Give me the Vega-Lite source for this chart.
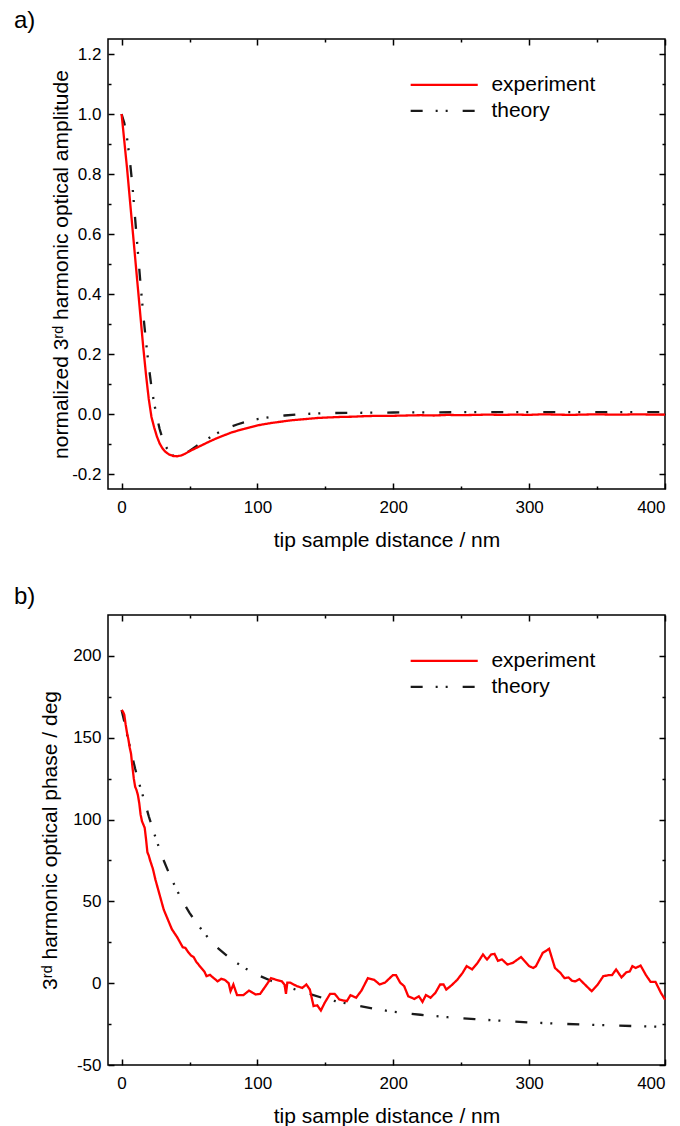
{
  "$schema": "https://vega.github.io/schema/vega-lite/v6.json",
  "background": "white",
  "padding": {"left": 13, "top": 8, "right": 0, "bottom": 0},
  "bounds": "flush",
  "spacing": 126,
  "resolve": {"scale": {"color": "independent", "strokeDash": "independent"}, "legend": {"color": "independent", "strokeDash": "independent"}},
  "config": {
    "font": "Liberation Sans",
    "view": {"stroke": "black", "strokeWidth": 1.5},
    "axis": {"grid": false, "domain": false, "tickColor": "black", "tickWidth": 1.5, "labelColor": "black", "labelFontSize": 17, "labelFont": "Liberation Sans", "titleFontSize": 21, "titleFont": "Liberation Sans", "titleFontWeight": "normal", "titleColor": "black"},
    "legend": {"title": null, "orient": "none", "legendX": 325.7, "legendY": 35.3, "symbolType": "M-5,0H5", "symbolSize": 180, "symbolStrokeWidth": 2.3, "labelFontSize": 21, "labelFont": "Liberation Sans", "labelColor": "black", "labelOffset": 36.7, "rowPadding": 4, "padding": 0},
    "title": {"fontSize": 24, "fontWeight": "normal", "anchor": "start", "frame": "group", "dx": -94, "offset": 5, "baseline": "alphabetic", "color": "black", "font": "Liberation Sans"}
  },
  "datasets": {
    "a": [
      {"series": "experiment", "x": 0, "y": 1.0},
      {"series": "experiment", "x": 2, "y": 0.91},
      {"series": "experiment", "x": 4, "y": 0.82},
      {"series": "experiment", "x": 6, "y": 0.72},
      {"series": "experiment", "x": 8, "y": 0.62},
      {"series": "experiment", "x": 10, "y": 0.52},
      {"series": "experiment", "x": 12, "y": 0.42},
      {"series": "experiment", "x": 14, "y": 0.32},
      {"series": "experiment", "x": 16, "y": 0.22},
      {"series": "experiment", "x": 18, "y": 0.13},
      {"series": "experiment", "x": 20, "y": 0.05},
      {"series": "experiment", "x": 22, "y": -0.01},
      {"series": "experiment", "x": 24, "y": -0.045},
      {"series": "experiment", "x": 26, "y": -0.075},
      {"series": "experiment", "x": 28, "y": -0.098},
      {"series": "experiment", "x": 30, "y": -0.114},
      {"series": "experiment", "x": 32, "y": -0.125},
      {"series": "experiment", "x": 35, "y": -0.135},
      {"series": "experiment", "x": 38, "y": -0.14},
      {"series": "experiment", "x": 41, "y": -0.141},
      {"series": "experiment", "x": 44, "y": -0.138},
      {"series": "experiment", "x": 47, "y": -0.132},
      {"series": "experiment", "x": 50, "y": -0.124},
      {"series": "experiment", "x": 55, "y": -0.113},
      {"series": "experiment", "x": 60, "y": -0.102},
      {"series": "experiment", "x": 65, "y": -0.091},
      {"series": "experiment", "x": 70, "y": -0.081},
      {"series": "experiment", "x": 75, "y": -0.072},
      {"series": "experiment", "x": 80, "y": -0.063},
      {"series": "experiment", "x": 85, "y": -0.056},
      {"series": "experiment", "x": 90, "y": -0.05},
      {"series": "experiment", "x": 95, "y": -0.044},
      {"series": "experiment", "x": 100, "y": -0.038},
      {"series": "experiment", "x": 105, "y": -0.034},
      {"series": "experiment", "x": 110, "y": -0.03},
      {"series": "experiment", "x": 115, "y": -0.027},
      {"series": "experiment", "x": 120, "y": -0.024},
      {"series": "experiment", "x": 125, "y": -0.021},
      {"series": "experiment", "x": 130, "y": -0.019},
      {"series": "experiment", "x": 135, "y": -0.017},
      {"series": "experiment", "x": 140, "y": -0.015},
      {"series": "experiment", "x": 145, "y": -0.013},
      {"series": "experiment", "x": 150, "y": -0.012},
      {"series": "experiment", "x": 160, "y": -0.01},
      {"series": "experiment", "x": 170, "y": -0.009},
      {"series": "experiment", "x": 180, "y": -0.007},
      {"series": "experiment", "x": 190, "y": -0.006},
      {"series": "experiment", "x": 200, "y": -0.006},
      {"series": "experiment", "x": 210, "y": -0.005},
      {"series": "experiment", "x": 220, "y": -0.004},
      {"series": "experiment", "x": 230, "y": -0.005},
      {"series": "experiment", "x": 240, "y": -0.003},
      {"series": "experiment", "x": 250, "y": -0.004},
      {"series": "experiment", "x": 260, "y": -0.003},
      {"series": "experiment", "x": 270, "y": -0.002},
      {"series": "experiment", "x": 280, "y": -0.003},
      {"series": "experiment", "x": 290, "y": -0.002},
      {"series": "experiment", "x": 300, "y": -0.003},
      {"series": "experiment", "x": 310, "y": -0.001},
      {"series": "experiment", "x": 320, "y": -0.002},
      {"series": "experiment", "x": 330, "y": -0.003},
      {"series": "experiment", "x": 340, "y": -0.002},
      {"series": "experiment", "x": 350, "y": -0.001},
      {"series": "experiment", "x": 360, "y": -0.002},
      {"series": "experiment", "x": 370, "y": -0.002},
      {"series": "experiment", "x": 380, "y": -0.001},
      {"series": "experiment", "x": 390, "y": -0.002},
      {"series": "experiment", "x": 400, "y": -0.002},
      {"series": "theory", "x": 0, "y": 1.0},
      {"series": "theory", "x": 2, "y": 0.97},
      {"series": "theory", "x": 4, "y": 0.92},
      {"series": "theory", "x": 6, "y": 0.85},
      {"series": "theory", "x": 8, "y": 0.76},
      {"series": "theory", "x": 10, "y": 0.65},
      {"series": "theory", "x": 12, "y": 0.54},
      {"series": "theory", "x": 14, "y": 0.43},
      {"series": "theory", "x": 16, "y": 0.33},
      {"series": "theory", "x": 18, "y": 0.24},
      {"series": "theory", "x": 20, "y": 0.16},
      {"series": "theory", "x": 22, "y": 0.09},
      {"series": "theory", "x": 24, "y": 0.035},
      {"series": "theory", "x": 26, "y": -0.01},
      {"series": "theory", "x": 28, "y": -0.05},
      {"series": "theory", "x": 30, "y": -0.08},
      {"series": "theory", "x": 32, "y": -0.103},
      {"series": "theory", "x": 34, "y": -0.12},
      {"series": "theory", "x": 36, "y": -0.132},
      {"series": "theory", "x": 38, "y": -0.139},
      {"series": "theory", "x": 40, "y": -0.142},
      {"series": "theory", "x": 43, "y": -0.141},
      {"series": "theory", "x": 46, "y": -0.135},
      {"series": "theory", "x": 50, "y": -0.123},
      {"series": "theory", "x": 55, "y": -0.107},
      {"series": "theory", "x": 60, "y": -0.092},
      {"series": "theory", "x": 65, "y": -0.078},
      {"series": "theory", "x": 70, "y": -0.065},
      {"series": "theory", "x": 75, "y": -0.053},
      {"series": "theory", "x": 80, "y": -0.043},
      {"series": "theory", "x": 85, "y": -0.035},
      {"series": "theory", "x": 90, "y": -0.028},
      {"series": "theory", "x": 95, "y": -0.022},
      {"series": "theory", "x": 100, "y": -0.017},
      {"series": "theory", "x": 110, "y": -0.01},
      {"series": "theory", "x": 120, "y": -0.005},
      {"series": "theory", "x": 130, "y": -0.001},
      {"series": "theory", "x": 140, "y": 0.001},
      {"series": "theory", "x": 150, "y": 0.003},
      {"series": "theory", "x": 175, "y": 0.004},
      {"series": "theory", "x": 200, "y": 0.005},
      {"series": "theory", "x": 250, "y": 0.006},
      {"series": "theory", "x": 300, "y": 0.006},
      {"series": "theory", "x": 350, "y": 0.006},
      {"series": "theory", "x": 400, "y": 0.006}
    ],
    "b": [
      {"series": "experiment", "x": 0, "y": 167},
      {"series": "experiment", "x": 1, "y": 166},
      {"series": "experiment", "x": 2, "y": 164},
      {"series": "experiment", "x": 3, "y": 158},
      {"series": "experiment", "x": 4, "y": 153},
      {"series": "experiment", "x": 5, "y": 149},
      {"series": "experiment", "x": 6, "y": 144},
      {"series": "experiment", "x": 7, "y": 140},
      {"series": "experiment", "x": 8, "y": 132},
      {"series": "experiment", "x": 9, "y": 125},
      {"series": "experiment", "x": 10, "y": 120},
      {"series": "experiment", "x": 11, "y": 118},
      {"series": "experiment", "x": 12, "y": 115},
      {"series": "experiment", "x": 13, "y": 110},
      {"series": "experiment", "x": 14, "y": 103},
      {"series": "experiment", "x": 15, "y": 99},
      {"series": "experiment", "x": 16, "y": 97},
      {"series": "experiment", "x": 17, "y": 95},
      {"series": "experiment", "x": 18, "y": 88},
      {"series": "experiment", "x": 19, "y": 80},
      {"series": "experiment", "x": 20, "y": 78},
      {"series": "experiment", "x": 21, "y": 75},
      {"series": "experiment", "x": 23, "y": 70},
      {"series": "experiment", "x": 25, "y": 63},
      {"series": "experiment", "x": 27, "y": 57},
      {"series": "experiment", "x": 29, "y": 51},
      {"series": "experiment", "x": 31, "y": 45},
      {"series": "experiment", "x": 33, "y": 41},
      {"series": "experiment", "x": 35, "y": 37},
      {"series": "experiment", "x": 37, "y": 33},
      {"series": "experiment", "x": 39, "y": 30.5},
      {"series": "experiment", "x": 41, "y": 28},
      {"series": "experiment", "x": 43, "y": 25},
      {"series": "experiment", "x": 45, "y": 22},
      {"series": "experiment", "x": 47, "y": 21.5},
      {"series": "experiment", "x": 49, "y": 19},
      {"series": "experiment", "x": 51, "y": 17},
      {"series": "experiment", "x": 53, "y": 16},
      {"series": "experiment", "x": 55, "y": 13},
      {"series": "experiment", "x": 57, "y": 11},
      {"series": "experiment", "x": 59, "y": 9},
      {"series": "experiment", "x": 61, "y": 7},
      {"series": "experiment", "x": 62.5, "y": 4.3},
      {"series": "experiment", "x": 65, "y": 5.1},
      {"series": "experiment", "x": 68, "y": 3},
      {"series": "experiment", "x": 70.7, "y": 1.1},
      {"series": "experiment", "x": 73.4, "y": 2.7},
      {"series": "experiment", "x": 76, "y": 2},
      {"series": "experiment", "x": 78.8, "y": 0},
      {"series": "experiment", "x": 80.2, "y": -4.9},
      {"series": "experiment", "x": 82.3, "y": -0.8},
      {"series": "experiment", "x": 85, "y": -7.3},
      {"series": "experiment", "x": 89.7, "y": -7.3},
      {"series": "experiment", "x": 93.8, "y": -4.5},
      {"series": "experiment", "x": 96.5, "y": -5.9},
      {"series": "experiment", "x": 98.6, "y": -6.9},
      {"series": "experiment", "x": 102, "y": -6.5},
      {"series": "experiment", "x": 106, "y": -1.8},
      {"series": "experiment", "x": 110, "y": 3.1},
      {"series": "experiment", "x": 114, "y": 2},
      {"series": "experiment", "x": 118, "y": 1.1},
      {"series": "experiment", "x": 120, "y": -1},
      {"series": "experiment", "x": 121, "y": -6.5},
      {"series": "experiment", "x": 122, "y": 0.4},
      {"series": "experiment", "x": 124, "y": 0.4},
      {"series": "experiment", "x": 129, "y": -1.8},
      {"series": "experiment", "x": 133, "y": -2.9},
      {"series": "experiment", "x": 136, "y": -0.8},
      {"series": "experiment", "x": 138.6, "y": -3.9},
      {"series": "experiment", "x": 141.3, "y": -14},
      {"series": "experiment", "x": 144, "y": -13.5},
      {"series": "experiment", "x": 146.7, "y": -16.7},
      {"series": "experiment", "x": 149.5, "y": -12},
      {"series": "experiment", "x": 153.5, "y": -6.5},
      {"series": "experiment", "x": 156.8, "y": -6.5},
      {"series": "experiment", "x": 160.3, "y": -10},
      {"series": "experiment", "x": 165.8, "y": -11},
      {"series": "experiment", "x": 168.5, "y": -7.3},
      {"series": "experiment", "x": 172.6, "y": -8.9},
      {"series": "experiment", "x": 176.6, "y": -4.5},
      {"series": "experiment", "x": 181.3, "y": 3.1},
      {"series": "experiment", "x": 186, "y": 2},
      {"series": "experiment", "x": 190, "y": -0.8},
      {"series": "experiment", "x": 194, "y": 0.4},
      {"series": "experiment", "x": 199.7, "y": 4.9},
      {"series": "experiment", "x": 202, "y": 4.9},
      {"series": "experiment", "x": 205, "y": 0.4},
      {"series": "experiment", "x": 208, "y": -1.8},
      {"series": "experiment", "x": 211, "y": -8},
      {"series": "experiment", "x": 215.5, "y": -9.6},
      {"series": "experiment", "x": 218.8, "y": -8},
      {"series": "experiment", "x": 221.5, "y": -11.4},
      {"series": "experiment", "x": 224, "y": -7.3},
      {"series": "experiment", "x": 227.4, "y": -8.9},
      {"series": "experiment", "x": 231, "y": -5.9},
      {"series": "experiment", "x": 234.5, "y": -0.8},
      {"series": "experiment", "x": 237, "y": -0.8},
      {"series": "experiment", "x": 239, "y": -3.9},
      {"series": "experiment", "x": 243, "y": -1.2},
      {"series": "experiment", "x": 247, "y": 2},
      {"series": "experiment", "x": 251, "y": 6.3},
      {"series": "experiment", "x": 254, "y": 10.4},
      {"series": "experiment", "x": 258, "y": 8.4},
      {"series": "experiment", "x": 262, "y": 12.4},
      {"series": "experiment", "x": 266, "y": 17.5},
      {"series": "experiment", "x": 269, "y": 14.5},
      {"series": "experiment", "x": 272, "y": 17.5},
      {"series": "experiment", "x": 274.5, "y": 17.9},
      {"series": "experiment", "x": 277, "y": 13.7},
      {"series": "experiment", "x": 280, "y": 14.5},
      {"series": "experiment", "x": 284, "y": 11.4},
      {"series": "experiment", "x": 288, "y": 12.4},
      {"series": "experiment", "x": 294, "y": 16},
      {"series": "experiment", "x": 300, "y": 10.4},
      {"series": "experiment", "x": 303, "y": 9.3},
      {"series": "experiment", "x": 305, "y": 10.4},
      {"series": "experiment", "x": 310, "y": 18.5},
      {"series": "experiment", "x": 314.7, "y": 21},
      {"series": "experiment", "x": 319, "y": 9.3},
      {"series": "experiment", "x": 323, "y": 6.3},
      {"series": "experiment", "x": 326, "y": 3.1},
      {"series": "experiment", "x": 329, "y": 3.5},
      {"series": "experiment", "x": 331.5, "y": 1.5},
      {"series": "experiment", "x": 334, "y": 1.1},
      {"series": "experiment", "x": 337, "y": 2.5},
      {"series": "experiment", "x": 341, "y": -0.8},
      {"series": "experiment", "x": 346, "y": -4.9},
      {"series": "experiment", "x": 350.5, "y": -0.8},
      {"series": "experiment", "x": 354.6, "y": 4.3},
      {"series": "experiment", "x": 358.7, "y": 4.9},
      {"series": "experiment", "x": 361, "y": 4.9},
      {"series": "experiment", "x": 364, "y": 8.4},
      {"series": "experiment", "x": 368, "y": 3.5},
      {"series": "experiment", "x": 371.5, "y": 6.7},
      {"series": "experiment", "x": 374, "y": 7.1},
      {"series": "experiment", "x": 376, "y": 10.4},
      {"series": "experiment", "x": 378.5, "y": 9.3},
      {"series": "experiment", "x": 382, "y": 10.8},
      {"series": "experiment", "x": 386, "y": 4.9},
      {"series": "experiment", "x": 389.4, "y": 0.8},
      {"series": "experiment", "x": 393, "y": 0.8},
      {"series": "experiment", "x": 397, "y": -5.9},
      {"series": "experiment", "x": 400, "y": -10},
      {"series": "theory", "x": 0, "y": 167},
      {"series": "theory", "x": 2, "y": 160},
      {"series": "theory", "x": 4, "y": 152},
      {"series": "theory", "x": 6, "y": 145},
      {"series": "theory", "x": 8, "y": 138},
      {"series": "theory", "x": 10, "y": 131},
      {"series": "theory", "x": 12, "y": 125},
      {"series": "theory", "x": 14, "y": 119},
      {"series": "theory", "x": 17, "y": 111},
      {"series": "theory", "x": 20, "y": 102},
      {"series": "theory", "x": 25, "y": 89},
      {"series": "theory", "x": 30, "y": 77},
      {"series": "theory", "x": 35, "y": 67},
      {"series": "theory", "x": 40, "y": 58},
      {"series": "theory", "x": 45, "y": 50},
      {"series": "theory", "x": 50, "y": 43},
      {"series": "theory", "x": 55, "y": 37},
      {"series": "theory", "x": 60, "y": 31.5},
      {"series": "theory", "x": 65, "y": 26.5},
      {"series": "theory", "x": 70, "y": 22},
      {"series": "theory", "x": 80, "y": 15},
      {"series": "theory", "x": 90, "y": 9.5},
      {"series": "theory", "x": 100, "y": 5},
      {"series": "theory", "x": 110, "y": 1.5},
      {"series": "theory", "x": 120, "y": -1.5},
      {"series": "theory", "x": 130, "y": -4.5},
      {"series": "theory", "x": 140, "y": -7},
      {"series": "theory", "x": 150, "y": -9.5},
      {"series": "theory", "x": 160, "y": -11.5},
      {"series": "theory", "x": 170, "y": -13},
      {"series": "theory", "x": 185, "y": -15.5},
      {"series": "theory", "x": 200, "y": -17.5},
      {"series": "theory", "x": 220, "y": -19.3},
      {"series": "theory", "x": 240, "y": -20.8},
      {"series": "theory", "x": 260, "y": -22},
      {"series": "theory", "x": 280, "y": -23},
      {"series": "theory", "x": 300, "y": -24},
      {"series": "theory", "x": 320, "y": -24.7},
      {"series": "theory", "x": 340, "y": -25.3},
      {"series": "theory", "x": 360, "y": -25.8},
      {"series": "theory", "x": 380, "y": -26.3},
      {"series": "theory", "x": 400, "y": -26.7}
    ]
  },
  "vconcat": [
    {
      "title": {"text": "a)"},
      "width": 557,
      "height": 450,
      "data": {"name": "a"},
      "resolve": {"axis": {"x": "independent", "y": "independent"}},
      "layer": [
        {
          "transform": [{"filter": "datum.series === 'theory'"}],
          "mark": {"type": "line", "strokeWidth": 2.3},
          "encoding": {
            "x": {"field": "x", "type": "quantitative", "scale": {"domain": [-10, 400], "nice": false, "zero": false},
              "axis": {"orient": "bottom", "values": [0, 50, 100, 150, 200, 250, 300, 350, 400], "labelExpr": "datum.value % 100 === 0 ? datum.label : ''", "tickSize": {"condition": {"test": "datum.value % 100 === 0", "value": -6}, "value": -3}, "labelPadding": 16, "title": "tip sample distance / nm", "titlePadding": 14}},
            "y": {"field": "y", "type": "quantitative", "scale": {"domain": [-0.25, 1.25], "nice": false, "zero": false},
              "axis": {"orient": "left", "values": [-0.2, -0.1, 0, 0.1, 0.2, 0.3, 0.4, 0.5, 0.6, 0.7, 0.8, 0.9, 1.0, 1.1, 1.2], "format": ".1f", "labelExpr": "round(datum.value*10) % 2 === 0 ? replace(datum.label, '\u2212', '-') : ''", "tickSize": {"condition": {"test": "round(datum.value*10) % 2 === 0", "value": -6}, "value": -3}, "labelPadding": 13, "title": "normalized 3\u02b3\u1d48 harmonic optical amplitude", "titlePadding": 0}},
            "color": {"field": "series", "type": "nominal", "scale": {"domain": ["experiment", "theory"], "range": ["#ff0000", "#1a1a1a"]}, "legend": {"title": null}},
            "strokeDash": {"field": "series", "type": "nominal", "scale": {"domain": ["experiment", "theory"], "range": [[1, 0], [12, 13, 2, 8, 2, 15]]}, "legend": {"title": null}}
          }
        },
        {
          "transform": [{"filter": "datum.series === 'experiment'"}],
          "mark": {"type": "line", "strokeWidth": 2.3},
          "encoding": {
            "x": {"field": "x", "type": "quantitative", "scale": {"domain": [-10, 400], "nice": false, "zero": false},
              "axis": {"orient": "top", "values": [0, 50, 100, 150, 200, 250, 300, 350, 400], "labels": false, "title": null, "tickSize": {"condition": {"test": "datum.value % 100 === 0", "value": -6}, "value": -3}}},
            "y": {"field": "y", "type": "quantitative", "scale": {"domain": [-0.25, 1.25], "nice": false, "zero": false},
              "axis": {"orient": "right", "values": [-0.2, -0.1, 0, 0.1, 0.2, 0.3, 0.4, 0.5, 0.6, 0.7, 0.8, 0.9, 1.0, 1.1, 1.2], "labels": false, "title": null, "tickSize": {"condition": {"test": "round(datum.value*10) % 2 === 0", "value": -6}, "value": -3}}},
            "color": {"field": "series", "type": "nominal", "scale": {"domain": ["experiment", "theory"], "range": ["#ff0000", "#1a1a1a"]}, "legend": {"title": null}},
            "strokeDash": {"field": "series", "type": "nominal", "scale": {"domain": ["experiment", "theory"], "range": [[1, 0], [12, 13, 2, 8, 2, 15]]}, "legend": {"title": null}}
          }
        }
      ]
    },
    {
      "title": {"text": "b)"},
      "width": 557,
      "height": 450,
      "data": {"name": "b"},
      "resolve": {"axis": {"x": "independent", "y": "independent"}},
      "layer": [
        {
          "transform": [{"filter": "datum.series === 'theory'"}],
          "mark": {"type": "line", "strokeWidth": 2.3},
          "encoding": {
            "x": {"field": "x", "type": "quantitative", "scale": {"domain": [-10, 400], "nice": false, "zero": false},
              "axis": {"orient": "bottom", "values": [0, 50, 100, 150, 200, 250, 300, 350, 400], "labelExpr": "datum.value % 100 === 0 ? datum.label : ''", "tickSize": {"condition": {"test": "datum.value % 100 === 0", "value": -6}, "value": -3}, "labelPadding": 16, "title": "tip sample distance / nm", "titlePadding": 14}},
            "y": {"field": "y", "type": "quantitative", "scale": {"domain": [-50, 225], "nice": false, "zero": false},
              "axis": {"orient": "left", "values": [-50, -25, 0, 25, 50, 75, 100, 125, 150, 175, 200], "labelExpr": "datum.value % 50 === 0 ? replace(datum.label, '\u2212', '-') : ''", "tickSize": {"condition": {"test": "datum.value % 50 === 0", "value": -6}, "value": -3}, "labelPadding": 13, "title": "3\u02b3\u1d48 harmonic optical phase / deg", "titlePadding": 12}},
            "color": {"field": "series", "type": "nominal", "scale": {"domain": ["experiment", "theory"], "range": ["#ff0000", "#1a1a1a"]}, "legend": {"title": null}},
            "strokeDash": {"field": "series", "type": "nominal", "scale": {"domain": ["experiment", "theory"], "range": [[1, 0], [12, 13, 2, 8, 2, 15]]}, "legend": {"title": null}}
          }
        },
        {
          "transform": [{"filter": "datum.series === 'experiment'"}],
          "mark": {"type": "line", "strokeWidth": 2.3},
          "encoding": {
            "x": {"field": "x", "type": "quantitative", "scale": {"domain": [-10, 400], "nice": false, "zero": false},
              "axis": {"orient": "top", "values": [0, 50, 100, 150, 200, 250, 300, 350, 400], "labels": false, "title": null, "tickSize": {"condition": {"test": "datum.value % 100 === 0", "value": -6}, "value": -3}}},
            "y": {"field": "y", "type": "quantitative", "scale": {"domain": [-50, 225], "nice": false, "zero": false},
              "axis": {"orient": "right", "values": [-50, -25, 0, 25, 50, 75, 100, 125, 150, 175, 200], "labels": false, "title": null, "tickSize": {"condition": {"test": "datum.value % 50 === 0", "value": -6}, "value": -3}}},
            "color": {"field": "series", "type": "nominal", "scale": {"domain": ["experiment", "theory"], "range": ["#ff0000", "#1a1a1a"]}, "legend": {"title": null}},
            "strokeDash": {"field": "series", "type": "nominal", "scale": {"domain": ["experiment", "theory"], "range": [[1, 0], [12, 13, 2, 8, 2, 15]]}, "legend": {"title": null}}
          }
        }
      ]
    }
  ]
}
